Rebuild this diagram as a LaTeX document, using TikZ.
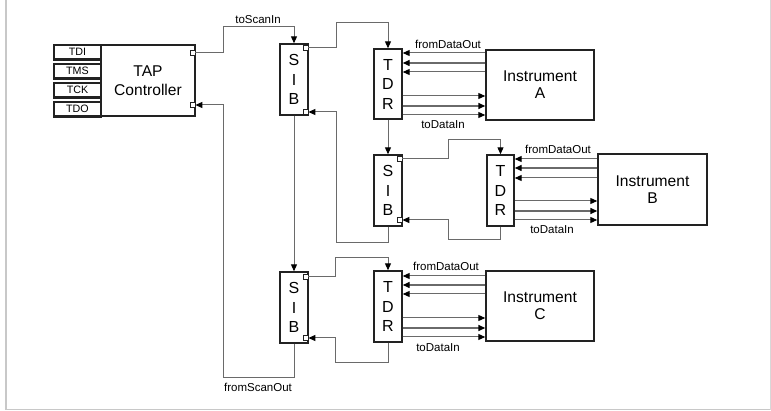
\documentclass[tikz,border=0pt]{standalone}
\usepackage{fontspec}
\setmainfont{Liberation Sans}
\usetikzlibrary{arrows.meta}
\definecolor{boxc}{HTML}{222222}
\definecolor{connc}{HTML}{6A6A6A}
\definecolor{framec}{HTML}{C8C8C8}
\tikzset{
  blk/.style={draw=boxc, line width=1.4pt, fill=white, inner sep=0pt, align=center},
  bigtxt/.style={font=\fontsize{15.6}{19.5}\selectfont},
  lettxt/.style={font=\fontsize{16}{19.5}\selectfont},
  pinbox/.style={blk, line width=1.5pt, minimum width=47pt, minimum height=14pt, font=\fontsize{10.7}{12}\selectfont},
  port/.style={draw=boxc, line width=0.8pt, fill=white, minimum size=4.5pt, inner sep=0pt},
  conn/.style={draw=connc, line width=1pt},
  arr/.style={conn, -{Triangle[length=7pt,width=6pt,fill=black,color=black]}},
  lbl/.style={font=\fontsize{11.5}{13}\selectfont, inner sep=0pt},
  pinbase/.style={draw=boxc, line width=2.4pt},
}
\begin{document}
\begin{tikzpicture}[x=1pt,y=-1pt]
\useasboundingbox (0,0) rectangle (771,411);
\fill[white] (0,0) rectangle (771,411);
% frame
\draw[framec, line width=2pt] (6,0) -- (6,409.5);
\draw[framec, line width=1.5pt] (5,409.5) -- (771,409.5);
\draw[framec!70, line width=0.8pt] (770,0) -- (770,410);

% TAP controller
\node[blk, bigtxt, minimum width=94pt, minimum height=71pt] (tap) at (148,80.5) {TAP\\Controller};
\node[pinbox] (tdi) at (77.5,52) {TDI};
\node[pinbox] (tms) at (77.5,71) {TMS};
\node[pinbox] (tck) at (77.5,90) {TCK};
\node[pinbox] (tdo) at (77.5,109) {TDO};
\foreach \n in {tdi,tms,tck,tdo} {\draw[pinbase] (\n.south west) -- (\n.south east);}
\node[port] (tpa) at (192.75,53) {};
\node[port] (tpb) at (192.75,105) {};

% SIBs
\node[blk, lettxt, minimum width=28pt, minimum height=71pt] (sib1) at (294,79.5) {S\\I\\B};
\node[blk, lettxt, minimum width=28pt, minimum height=71pt] (sib2) at (388,190.5) {S\\I\\B};
\node[blk, lettxt, minimum width=28pt, minimum height=71pt] (sib3) at (294,307.5) {S\\I\\B};
\node[port] (s1a) at (305.75,48) {};
\node[port] (s1b) at (305.75,112) {};
\node[port] (s2a) at (399.75,159) {};
\node[port] (s2b) at (399.75,220) {};
\node[port] (s3a) at (305.75,277) {};
\node[port] (s3b) at (305.75,338) {};

% TDRs
\node[blk, lettxt, minimum width=28pt, minimum height=70pt] (tdr1) at (388,84) {T\\D\\R};
\node[blk, lettxt, minimum width=27pt, minimum height=71pt] (tdr2) at (500.5,190.5) {T\\D\\R};
\node[blk, lettxt, minimum width=28pt, minimum height=71pt] (tdr3) at (388,306.5) {T\\D\\R};

% Instruments
\node[blk, bigtxt, font=\fontsize{15.6}{17}\selectfont, minimum width=108pt, minimum height=70pt] (insa) at (540,85) {Instrument\\A};
\node[blk, bigtxt, font=\fontsize{15.6}{17}\selectfont, minimum width=109pt, minimum height=71pt] (insb) at (652.5,189.5) {Instrument\\B};
\node[blk, bigtxt, font=\fontsize{15.6}{17}\selectfont, minimum width=108pt, minimum height=70pt] (insc) at (540,306) {Instrument\\C};

% scan chain
\draw[arr] (tpa.east) -- ++(28,0) -- ++(0,-26) -| (sib1.north);
\node[lbl] (lscanin) at (258,20) {toScanIn};
\draw[arr] (s1a.east) -- ++(28,0) -- ++(0,-25) -| (tdr1.north);
\draw[arr] (tdr1.south) -- (sib2.north);
\draw[arr] (s2a.east) -- ++(46,0) -- ++(0,-19) -| (tdr2.north);
\draw[arr] (tdr2.south) -- ++(0,13) -| (448,220) -- (s2b.east);
\draw[arr] (sib2.south) -- ++(0,16) -| (336,112) -- (s1b.east);
\draw[arr] (sib1.south) -- (sib3.north);
\draw[arr] (s3a.east) -- ++(27,0) -- ++(0,-19) -| (tdr3.north);
\draw[arr] (tdr3.south) -- ++(0,20) -| (335,338) -- (s3b.east);
\draw[arr] (sib3.south) -- ++(0,34) -| (223,105) -- (tpb.east);
\node[lbl] (lscanout) at (258,387) {fromScanOut};

% data lines
\foreach \y/\w in {53/1,63/1.4,72/1} {\draw[arr, line width=\w pt] (insa.west |- 0,\y) -- (tdr1.east |- 0,\y);}
\foreach \y/\w in {96/1,106/1.4,115/1} {\draw[arr, line width=\w pt] (tdr1.east |- 0,\y) -- (insa.west |- 0,\y);}
\foreach \y/\w in {159/1,168/1.4,178/1} {\draw[arr, line width=\w pt] (insb.west |- 0,\y) -- (tdr2.east |- 0,\y);}
\foreach \y/\w in {201/1,211/1.4,220/1} {\draw[arr, line width=\w pt] (tdr2.east |- 0,\y) -- (insb.west |- 0,\y);}
\foreach \y/\w in {276/1,285/1.4,294/1} {\draw[arr, line width=\w pt] (insc.west |- 0,\y) -- (tdr3.east |- 0,\y);}
\foreach \y/\w in {318/1,328/1.4,337/1} {\draw[arr, line width=\w pt] (tdr3.east |- 0,\y) -- (insc.west |- 0,\y);}

\node[lbl] (fa) at (448,44) {fromDataOut};
\node[lbl] (ta) at (443,124.5) {toDataIn};
\node[lbl] (fb) at (558,149) {fromDataOut};
\node[lbl] (tb) at (552,230) {toDataIn};
\node[lbl] (fc) at (446,266) {fromDataOut};
\node[lbl] (tc) at (438,347.5) {toDataIn};
\end{tikzpicture}
\end{document}
